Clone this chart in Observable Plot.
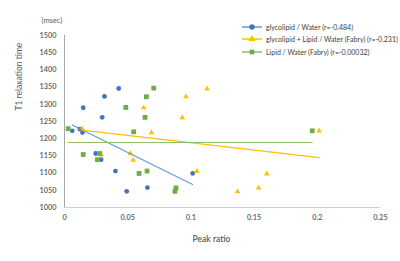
<!DOCTYPE html>
<html><head><meta charset="utf-8">
<script src="https://cdn.jsdelivr.net/npm/d3@7"></script>
<script src="https://cdn.jsdelivr.net/npm/@observablehq/plot@0.6"></script>
<style>
body{margin:0;background:#fff;}
#wrap{position:relative;width:400px;height:261px;font-family:Lato,"Open Sans",sans-serif;}
#legend{position:absolute;left:242px;top:20.5px;font-size:7px;color:#404040;}
#legend .row{display:flex;align-items:center;height:12.6px;white-space:nowrap}
#legend svg{margin-right:4px}
</style></head><body><div id="wrap"></div>
<script>
// ---- data ----
const seriesNames = [
  "glycolipid / Water (r=-0.484)",
  "glycolipid + Lipid / Water (Fabry) (r=-0.231)",
  "Lipid / Water (Fabry) (r=-0.00032)"
];
const seriesColors = ["#4472C4", "#FFC000", "#70AD47"];
const trendColors = ["#5B9BD5", "#FFC000", "#8CC168"];
const seriesSymbols = ["circle", "triangle", "square"];

const blueX = [0.0429, 0.0316, 0.0148, 0.0298, 0.0061, 0.0121, 0.0142, 0.0247, 0.0290, 0.0403, 0.0492, 0.0656, 0.1014];
const blueY = [1346, 1323, 1290, 1262, 1223, 1228, 1218, 1157, 1139, 1106, 1047, 1058, 1099];

const orangeX = [0.0627, 0.0961, 0.0932, 0.1127, 0.0140, 0.0687, 0.0290, 0.0521, 0.0543, 0.1048, 0.1369, 0.1535, 0.1600, 0.2014];
const orangeY = [1290, 1322, 1261, 1345, 1229, 1218, 1153, 1157, 1138, 1105, 1046, 1057, 1098, 1223];

const greenX = [0.0706, 0.0648, 0.0485, 0.0637, 0.0547, 0.0029, 0.0148, 0.0279, 0.0260, 0.0590, 0.0653, 0.0882, 0.0874, 0.1960];
const greenY = [1347, 1322, 1291, 1262, 1220, 1229, 1154, 1157, 1139, 1099, 1106, 1057, 1047, 1223];

// linear trend lines (end points)
const trendBlueX = [0.0061, 0.1014], trendBlueY = [1240, 1067];
const trendOrangeX = [0.0140, 0.2014], trendOrangeY = [1225, 1145];
const trendGreenX = [0.0029, 0.1960], trendGreenY = [1189, 1189];

const yTicks = [1000, 1050, 1100, 1150, 1200, 1250, 1300, 1350, 1400, 1450, 1500];
const xTicks = [0, 0.05, 0.1, 0.15, 0.2, 0.25];
const xTickLabels = ["0", "0.05", "0.1", "0.15", "0.2", "0.25"];
const yTitle = "T1 relaxation time";
const yUnit = "(msec)";
const xTitle = "Peak ratio";

// ---- build tables ----
const pts = (xs, ys) => xs.map((x, i) => ({x, y: ys[i]}));
const series = [pts(blueX, blueY), pts(orangeX, orangeY), pts(greenX, greenY)];
const trends = [pts(trendBlueX, trendBlueY), pts(trendOrangeX, trendOrangeY), pts(trendGreenX, trendGreenY)];
const dotR = [2.4, 2.1, 2.7];

const grey = "#595959";
const chart = Plot.plot({
  width: 400, height: 261,
  marginLeft: 64, marginRight: 20, marginTop: 35, marginBottom: 54,
  style: {fontFamily: 'Lato, "Open Sans", sans-serif', fontSize: "7px", color: grey, background: "transparent", overflow: "visible"},
  x: {domain: [0, 0.25]},
  y: {domain: [1000, 1500]},
  marks: [
    Plot.axisY({ticks: yTicks, tickSize: 0, tickPadding: 8, label: null, fill: grey, fontSize: 7.3, fontWeight: 600,
      tickFormat: d => String(d)}),
    Plot.axisX({ticks: xTicks, tickSize: 0, tickPadding: 7, label: null, fill: grey, fontSize: 7.3, fontWeight: 600,
      tickFormat: d => xTickLabels[xTicks.indexOf(d)]}),
    Plot.ruleX([0], {stroke: "#a6a6a6", strokeWidth: 1}),
    Plot.ruleY([1000], {stroke: "#cfcfcf", strokeWidth: 1}),
    ...series.map((s, i) => Plot.dot(s, {x: "x", y: "y", symbol: () => seriesSymbols[i], r: dotR[i], fill: seriesColors[i], stroke: "none"})),
    ...trends.map((t, i) => Plot.line(t, {x: "x", y: "y", stroke: trendColors[i], strokeWidth: 1.1})),
    Plot.text([yTitle], {frameAnchor: "left", rotate: -90, dx: -45, dy: -11, fontSize: 8.5, fill: grey}),
    Plot.text([yUnit], {frameAnchor: "top-left", dx: -23, dy: -18, fontSize: 7.5, fill: grey}),
    Plot.text([xTitle], {frameAnchor: "bottom", dx: -11, dy: 34, fontSize: 8.5, fill: grey, fontWeight: 600})
  ]
});
const wrap = document.getElementById("wrap");
wrap.appendChild(chart);

// ---- legend ----
const legend = document.createElement("div");
legend.id = "legend";
seriesNames.forEach((name, i) => {
  const row = document.createElement("div");
  row.className = "row";
  const svg = d3.create("svg").attr("width", 20).attr("height", 8);
  svg.append("line").attr("x1", 0).attr("x2", 20).attr("y1", 4).attr("y2", 4).attr("stroke", trendColors[i]).attr("stroke-width", 1.5);
  svg.append("path").attr("transform", "translate(10,4)")
    .attr("d", d3.symbol(i === 0 ? d3.symbolCircle : i === 1 ? d3.symbolTriangle : d3.symbolSquare, i === 0 ? 24 : 22)())
    .attr("fill", seriesColors[i]);
  row.appendChild(svg.node());
  const span = document.createElement("span");
  span.textContent = name;
  row.appendChild(span);
  legend.appendChild(row);
});
wrap.appendChild(legend);
</script></body></html>
